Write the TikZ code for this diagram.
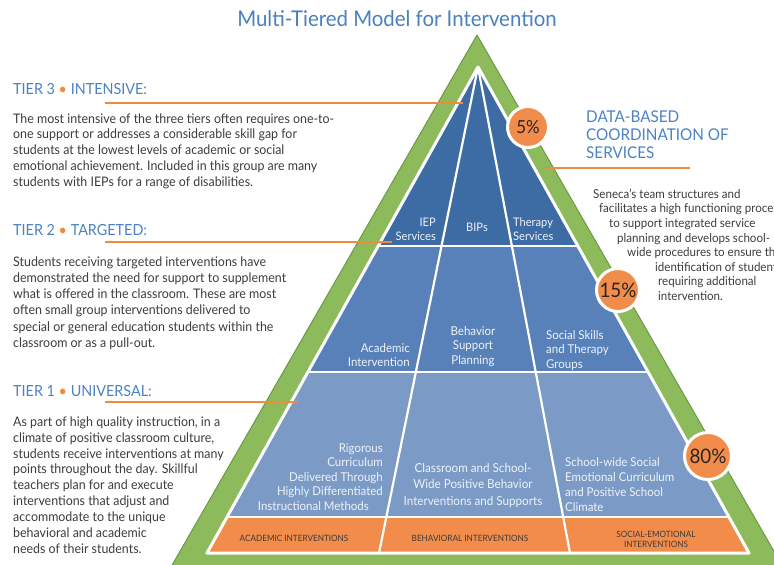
\documentclass[tikz,border=0pt]{standalone}
\usepackage{fontspec}
\setmainfont[FakeStretch=0.94]{Lato}
\usetikzlibrary{shadows}
\definecolor{ttl}{HTML}{4A80BE}
\definecolor{hd}{HTML}{4B82C3}
\definecolor{org}{HTML}{F08A3E}
\definecolor{orgfill}{HTML}{F28C4A}
\definecolor{grn}{HTML}{8DBB5C}
\definecolor{grnd}{HTML}{6A9A45}
\definecolor{tthree}{HTML}{3D6BA4}
\definecolor{ttwo}{HTML}{5781B8}
\definecolor{tone}{HTML}{7B9BC6}
\definecolor{bodyc}{HTML}{3C3C3C}
\definecolor{lblc}{HTML}{EEF2F8}
\tikzset{
  heading/.style={anchor=base west, inner sep=0, text=hd, font=\fontsize{15.3}{18}\selectfont},
  bodytext/.style={anchor=north west, inner sep=0, align=left, text=bodyc},
  leader/.style={draw=org, line width=2.6pt},
  lbl/.style={inner sep=0, text=lblc, font=\fontsize{12.2}{14.5}\selectfont},
  bandlbl/.style={inner sep=0, text=bodyc, align=center, font=\fontsize{8.7}{10}\selectfont},
  pct/.style={circle, fill=orgfill, draw=white, line width=3pt, inner sep=0, text=black!85,
    drop shadow={opacity=0.35, shadow xshift=1pt, shadow yshift=-1pt}},
  divline/.style={draw=white, line width=2.2pt}
}
\begin{document}
\begin{tikzpicture}[x=1pt,y=-1pt]
\useasboundingbox (0,0) rectangle (774,565);
% geometry
\coordinate (GA) at (477,35);
\coordinate (GL) at (152,600);
\coordinate (GR) at (802,600);
\coordinate (A) at (478,67);
\coordinate (BL) at (207,553);
\coordinate (BR) at (749,553);
\coordinate (DL) at (379,553);
\coordinate (DR) at (570,553);
% green frame
\begin{scope}
\clip (0,0) rectangle (774,565);
\filldraw[fill=grn, draw=grnd, line width=1pt, line join=round] (GA) -- (GL) -- (GR) -- cycle;
\end{scope}
% tiers
\begin{scope}
\clip (A) -- (BL) -- (BR) -- cycle;
\fill[tthree] (150,60) rectangle (800,246);
\fill[ttwo] (150,246) rectangle (800,372);
\fill[tone] (150,372) rectangle (800,517);
\fill[orgfill] (150,517) rectangle (800,560);
\draw[divline] (150,246) -- (800,246);
\draw[divline] (150,372) -- (800,372);
\draw[divline] (150,517) -- (800,517);
\draw[divline] (A) -- (DL);
\draw[divline] (A) -- (DR);
\end{scope}
\draw[draw=white, line width=3pt, line join=round] (A) -- (BL) -- (BR) -- cycle;

% title
\node[text=ttl, font=\fontsize{21.7}{24}\selectfont, inner sep=0] (title) at (397,19) {Multi-Tiered Model for Intervention};

% tier 3
\node[heading] (h3) at (13,94.5) {TIER 3 \textcolor{org}{•} INTENSIVE:};
\coordinate (l3a) at (105,103);
\coordinate (l3b) at (463,103);
\draw[leader] (l3a) -- (l3b);
\node[bodytext, font=\fontsize{13.2}{15.75}\selectfont] (b3) at (13,112) {\strut The most intensive of the three tiers often requires one-to-\\one support or addresses a considerable skill gap for\\students at the lowest levels of academic or social\\emotional achievement. Included in this group are many\\students with IEPs for a range of disabilities.};

% tier 2
\node[heading] (h2) at (13,235.5) {TIER 2 \textcolor{org}{•} TARGETED:};
\coordinate (l2a) at (105,242);
\coordinate (l2b) at (392,242);
\draw[leader] (l2a) -- (l2b);
\node[bodytext, font=\fontsize{13.2}{16.2}\selectfont] (b2) at (13,254.7) {\strut Students receiving targeted interventions have\\demonstrated the need for support to supplement\\what is offered in the classroom. These are most\\often small group interventions delivered to\\special or general education students within the\\classroom or as a pull-out.};

% tier 1
\node[heading] (h1) at (13,396.5) {TIER 1 \textcolor{org}{•} UNIVERSAL:};
\coordinate (l1a) at (105,402);
\coordinate (l1b) at (298,402);
\draw[leader] (l1a) -- (l1b);
\node[bodytext, font=\fontsize{13.2}{15.9}\selectfont] (b1) at (13,414.9) {\strut As part of high quality instruction, in a\\climate of positive classroom culture,\\students receive interventions at many\\points throughout the day. Skillful\\teachers plan for and execute\\interventions that adjust and\\accommodate to the unique\\behavioral and academic\\needs of their students.};

% right side
\node[anchor=north west, inner sep=0, align=left, text=hd, font=\fontsize{16.2}{18}\selectfont] (hr) at (586,109.9) {\strut DATA-BASED\\COORDINATION OF\\SERVICES};
\coordinate (lra) at (545,168);
\coordinate (lrb) at (690,168);
\draw[leader] (lra) -- (lrb);
\node[bodytext, font=\fontsize{12.3}{14.6}\selectfont] (br) at (593,187.8) {\strut Seneca’s team structures and\\\hspace*{6pt}facilitates a high functioning process\\\hspace*{16pt}to support integrated service\\\hspace*{24pt}planning and develops school-\\\hspace*{34pt}wide procedures to ensure the\\\hspace*{62pt}identification of students\\\hspace*{65pt}requiring additional\\\hspace*{65pt}intervention.};

% tier 3 labels
\node[lbl, anchor=north east, align=right, font=\fontsize{11.8}{14}\selectfont] (iep) at (436,216) {\strut IEP\\Services};
\node[lbl, anchor=north, align=center, font=\fontsize{11.8}{14}\selectfont] (bips) at (477,221) {\strut BIPs};
\node[lbl, anchor=north west, align=left, font=\fontsize{11.8}{14}\selectfont] (ther) at (513,216) {\strut Therapy\\Services};
% tier 2 labels
\node[lbl, anchor=north east, align=right, font=\fontsize{12.2}{14}\selectfont] (acad) at (410,342) {\strut Academic\\Intervention};
\node[lbl, anchor=north, align=center] (behav) at (473,325) {\strut Behavior\\Support\\Planning};
\node[lbl, anchor=north west, align=left] (social) at (546,329) {\strut Social Skills\\and Therapy\\Groups};
% tier 1 labels
\node[lbl, anchor=north east, align=right] (rig) at (383,442) {\strut Rigorous\\Curriculum\\Delivered Through\\Highly Differentiated\\Instructional Methods\hspace*{14pt}};
\node[lbl, anchor=north, align=center, font=\fontsize{12.4}{16.5}\selectfont] (pbis) at (473,460.5) {\strut Classroom and School-\\Wide Positive Behavior\\Interventions and Supports};
\node[lbl, anchor=north west, align=left, font=\fontsize{12.2}{15}\selectfont] (sel) at (565,455.5) {\strut School-wide Social\\Emotional Curriculum\\and Positive School\\Climate};
% band labels
\node[bandlbl] (ba) at (294,538) {ACADEMIC INTERVENTIONS};
\node[bandlbl] (bb) at (470,538) {BEHAVIORAL INTERVENTIONS};
\node[bandlbl] (bc) at (656,539) {SOCIAL-EMOTIONAL\\INTERVENTIONS};

% percentages
\node[pct, minimum size=41pt, font=\fontsize{18}{20}\selectfont] (p5) at (528,127) {5\%};
\node[pct, minimum size=43pt, font=\fontsize{20}{22}\selectfont] (p15) at (618,290) {15\%};
\node[pct, minimum size=47pt, font=\fontsize{20}{22}\selectfont] (p80) at (708,456) {80\%};
\end{tikzpicture}
\end{document}
